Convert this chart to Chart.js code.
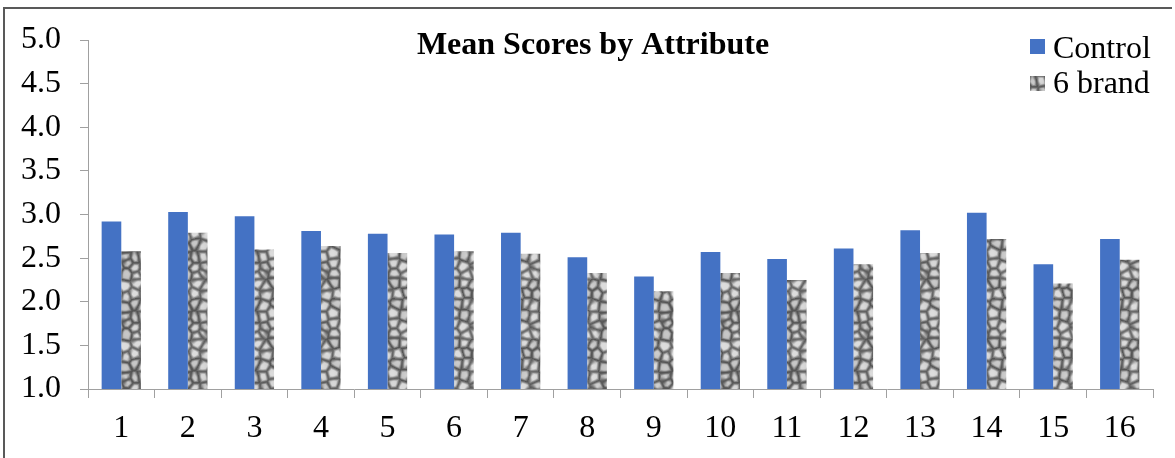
<!DOCTYPE html>
<html>
<head>
<meta charset="utf-8">
<script src="https://cdn.jsdelivr.net/npm/chart.js@4"></script>
<style>
  html, body { margin: 0; padding: 0; background: #fff; }
  #wrap { position: relative; width: 1175px; height: 458px; }
  #frame {
    position: absolute; left: 3px; top: 7px; width: 1169px; height: 460px;
    border-left: 2px solid #595959; border-top: 2px solid #595959;
    box-sizing: border-box; pointer-events: none;
  }
</style>
</head>
<body>
<div id="wrap">
  <canvas id="chart" width="1175" height="458"></canvas>
  <div id="frame"></div>
</div>
<script>
// Data
const attributes = ["1", "2", "3", "4", "5", "6", "7", "8", "9", "10", "11", "12", "13", "14", "15", "16"];
const controlScores = [2.92, 3.03, 2.98, 2.81, 2.78, 2.77, 2.79, 2.51, 2.29, 2.57, 2.49, 2.61, 2.82, 3.02, 2.43, 2.72];
const brandScores = [2.58, 2.79, 2.60, 2.64, 2.56, 2.58, 2.55, 2.33, 2.12, 2.33, 2.25, 2.43, 2.56, 2.72, 2.21, 2.48];
const seriesNames = ["Control", "6 brand"];
const yTicks = [1.0, 1.5, 2.0, 2.5, 3.0, 3.5, 4.0, 4.5, 5.0];

const serif = "'Liberation Serif', 'Times New Roman', serif";
const blue = "#4472C4";

// soft cell-like gray texture for the "6 brand" bars (fixed hashed points, tiles seamlessly)
function makeTexture() {
  const N = 60, cell = 10, n = N / cell;
  const hash = (i, j, k) => {
    const s = Math.sin(i * 127.1 + j * 311.7 + k * 74.7) * 43758.5453;
    return s - Math.floor(s);
  };
  const pts = [];
  for (let j = 0; j < n; j++) {
    for (let i = 0; i < n; i++) {
      pts.push({ x: (i + 0.15 + 0.7 * hash(i, j, 1)) * cell, y: (j + 0.15 + 0.7 * hash(i, j, 2)) * cell, b: hash(i, j, 3) });
    }
  }
  const c = document.createElement("canvas");
  c.width = N; c.height = N;
  const g = c.getContext("2d");
  const img = g.createImageData(N, N);
  for (let y = 0; y < N; y++) {
    for (let x = 0; x < N; x++) {
      let f1 = 1e9, f2 = 1e9, b1 = 0;
      for (const p of pts) {
        let dx = Math.abs(x - p.x), dy = Math.abs(y - p.y);
        dx = Math.min(dx, N - dx); dy = Math.min(dy, N - dy);
        const d = Math.sqrt(dx * dx + dy * dy);
        if (d < f1) { f2 = f1; f1 = d; b1 = p.b; } else if (d < f2) { f2 = d; }
      }
      const e = Math.min(1, (f2 - f1) / 6);
      const t = e * e * (3 - 2 * e);
      let v = 105 + 110 * t + 30 * (b1 - 0.5) - 2 * f1;
      v = Math.max(85, Math.min(220, v));
      const i = (y * N + x) * 4;
      img.data[i] = img.data[i + 1] = img.data[i + 2] = v;
      img.data[i + 3] = 255;
    }
  }
  g.putImageData(img, 0, 0);
  return c;
}
const texCanvas = makeTexture();
const ctx0 = document.getElementById("chart").getContext("2d");
const texture = ctx0.createPattern(texCanvas, "repeat");

// title + legend drawn at the spots the reference uses
const overlay = {
  id: "overlay",
  afterDraw(chart) {
    const ctx = chart.ctx;
    ctx.save();
    ctx.fillStyle = "#000";
    ctx.font = "bold 32px " + serif;
    ctx.textAlign = "center";
    ctx.textBaseline = "alphabetic";
    ctx.fillText("Mean Scores by Attribute", 593, 54);

    ctx.font = "32px " + serif;
    ctx.textAlign = "left";
    ctx.fillStyle = blue;
    ctx.fillRect(1030, 39, 15, 15);
    ctx.drawImage(texCanvas, 12, 12, 15, 15, 1030, 76, 15, 15);
    ctx.fillStyle = "#000";
    ctx.fillText(seriesNames[0], 1053, 58);
    ctx.fillText(seriesNames[1], 1053, 93);
    ctx.restore();
  }
};

new Chart(document.getElementById("chart"), {
  type: "bar",
  data: {
    labels: attributes,
    datasets: [
      { label: seriesNames[0], data: controlScores, backgroundColor: blue, borderWidth: 0 },
      { label: seriesNames[1], data: brandScores, backgroundColor: texture, borderWidth: 0 }
    ]
  },
  options: {
    responsive: false,
    animation: false,
    events: [],
    layout: { padding: { top: 40, right: 22, left: 0, bottom: 0 } },
    datasets: { bar: { categoryPercentage: 0.59, barPercentage: 1.0 } },
    plugins: { legend: { display: false }, title: { display: false }, tooltip: { enabled: false } },
    scales: {
      x: {
        grid: { drawOnChartArea: false, drawTicks: true, tickLength: 9, color: "#a0a0a0", offset: true },
        border: { color: "#a0a0a0", width: 1 },
        ticks: { color: "#000", font: { family: serif, size: 32 }, padding: 11, maxRotation: 0 },
        afterFit(scale) { scale.height = 69; }
      },
      y: {
        min: 1, max: 5,
        afterBuildTicks(scale) { scale.ticks = yTicks.map(v => ({ value: v })); },
        grid: { drawOnChartArea: false, drawTicks: true, tickLength: 8, color: "#a0a0a0" },
        border: { color: "#a0a0a0", width: 1 },
        ticks: {
          color: "#000", font: { family: serif, size: 32 }, padding: 19,
          callback: v => Number(v).toFixed(1)
        },
        afterFit(scale) { scale.width = 88; }
      }
    }
  },
  plugins: [overlay]
});
</script>
</body>
</html>
